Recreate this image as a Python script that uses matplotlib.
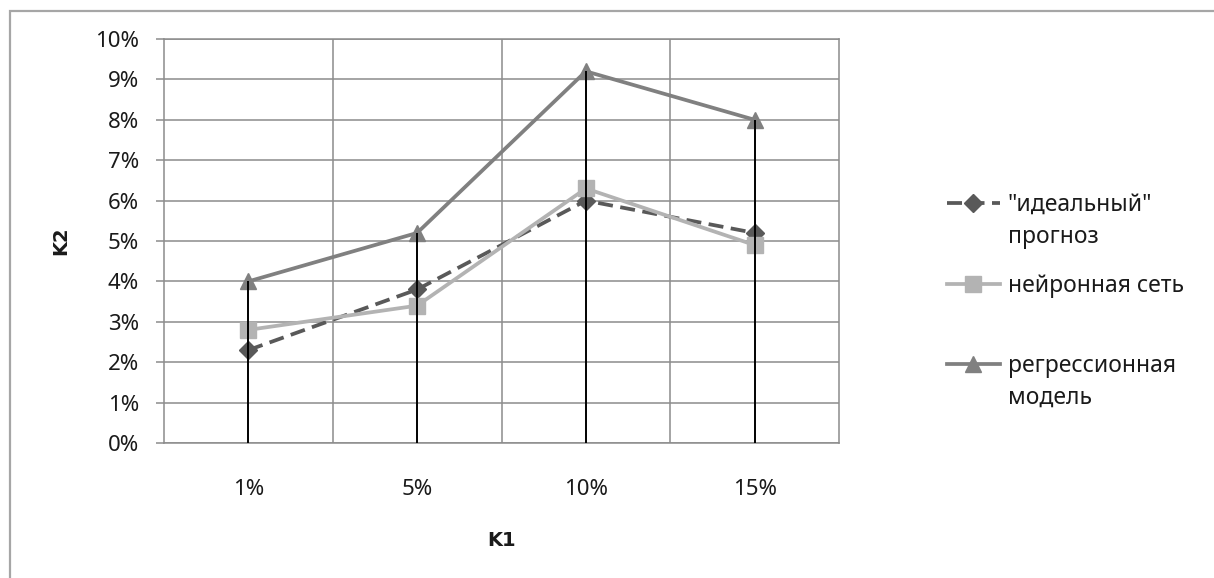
#!/usr/bin/env python3
import numpy as np
import matplotlib
matplotlib.use("Agg")
import matplotlib.pyplot as plt
from matplotlib.patches import Rectangle
from matplotlib.ticker import FuncFormatter

# K1 categories and K2 values (in %)
categories = ["1%", "5%", "10%", "15%"]
ideal = [2.3, 3.8, 6.0, 5.2]
neural = [2.8, 3.4, 6.3, 4.9]
regression = [4.0, 5.2, 9.2, 8.0]

# legend labels: first line goes into the legend, second line below it
labels = [('"идеальный"', "прогноз"), ("нейронная сеть", ""), ("регрессионная", "модель")]

W, H = 1214, 578


def main() -> int:
    plt.rcParams.update({
        "font.family": ["Noto Sans", "DejaVu Sans"],
        "font.size": 16,
        "figure.dpi": 100,
        "savefig.dpi": 100,
    })
    fig = plt.figure(figsize=(W / 100, H / 100))
    text_c = "#1a1a1a"

    # outer chart border
    fig.add_artist(Rectangle((10 / W, -0.05), 1.1, 1 - 11 / H + 0.05,
                             transform=fig.transFigure, fill=False,
                             edgecolor="#a6a6a6", linewidth=1.6))

    ax = fig.add_axes([164 / W, 1 - 443 / H, (839 - 164) / W, (443 - 39) / H])
    x = np.arange(len(categories))
    grid_c = "#8c8c8c"

    ax.set_xlim(-0.5, len(categories) - 0.5)
    ax.set_ylim(0, 10)
    ax.set_yticks(np.arange(0, 11, 1))
    ax.yaxis.set_major_formatter(FuncFormatter(lambda v, _: f"{v:.0f}%"))
    ax.set_xticks(x)
    ax.set_xticklabels(categories)
    ax.set_xticks(np.arange(0.5, len(categories) - 0.5, 1), minor=True)
    ax.grid(True, axis="y", which="major", color=grid_c, linewidth=1.1)
    ax.grid(True, axis="x", which="minor", color=grid_c, linewidth=1.1)
    ax.set_axisbelow(True)
    for s in ax.spines.values():
        s.set_color(grid_c)
        s.set_linewidth(1.1)
    ax.tick_params(axis="y", length=6, width=1.1, color=grid_c, pad=12,
                   labelcolor=text_c)
    ax.tick_params(axis="x", which="both", length=0, pad=26, labelcolor=text_c)

    ax.plot(x, ideal, color="#595959", linewidth=2.7, dashes=(4.0, 2.0),
            marker="D", markersize=9, label=labels[0][0], zorder=3)
    ax.plot(x, neural, color="#b3b3b3", linewidth=2.7,
            marker="s", markersize=12, label=labels[1][0], zorder=4)
    ax.plot(x, regression, color="#808080", linewidth=2.7,
            marker="^", markersize=12, label=labels[2][0], zorder=5)

    # drop lines from the highest point to the category axis
    top = np.max([ideal, neural, regression], axis=0)
    ax.vlines(x, 0, top, color="black", linewidth=1.4, zorder=6)

    bold = dict(family="DejaVu Sans", fontweight="bold", fontsize=14, color=text_c)
    ax.set_xlabel("K1", labelpad=22, **bold)
    ax.set_ylabel("K2", labelpad=18, **bold)

    leg = ax.legend(loc="upper left", bbox_to_anchor=(947 / W, 1 - 193 / H),
                    bbox_transform=fig.transFigure, frameon=False, borderpad=0,
                    borderaxespad=0, handlelength=2.3, handletextpad=0.35,
                    labelspacing=2.47, fontsize=16.5)
    for t in leg.get_texts():
        t.set_color(text_c)

    # second lines of the legend labels, placed under the first lines
    fig.canvas.draw()
    inv = fig.transFigure.inverted()
    for t, (_, second) in zip(leg.get_texts(), labels):
        if not second:
            continue
        bb = t.get_window_extent()
        x0, y0 = inv.transform((bb.x0, bb.y0 - 32 + bb.height / 2))
        fig.text(x0, y0, second, fontsize=16.5, color=text_c, va="center", ha="left")

    fig.savefig("out.png")
    plt.close(fig)
    return 0


if __name__ == "__main__":
    raise SystemExit(main())
